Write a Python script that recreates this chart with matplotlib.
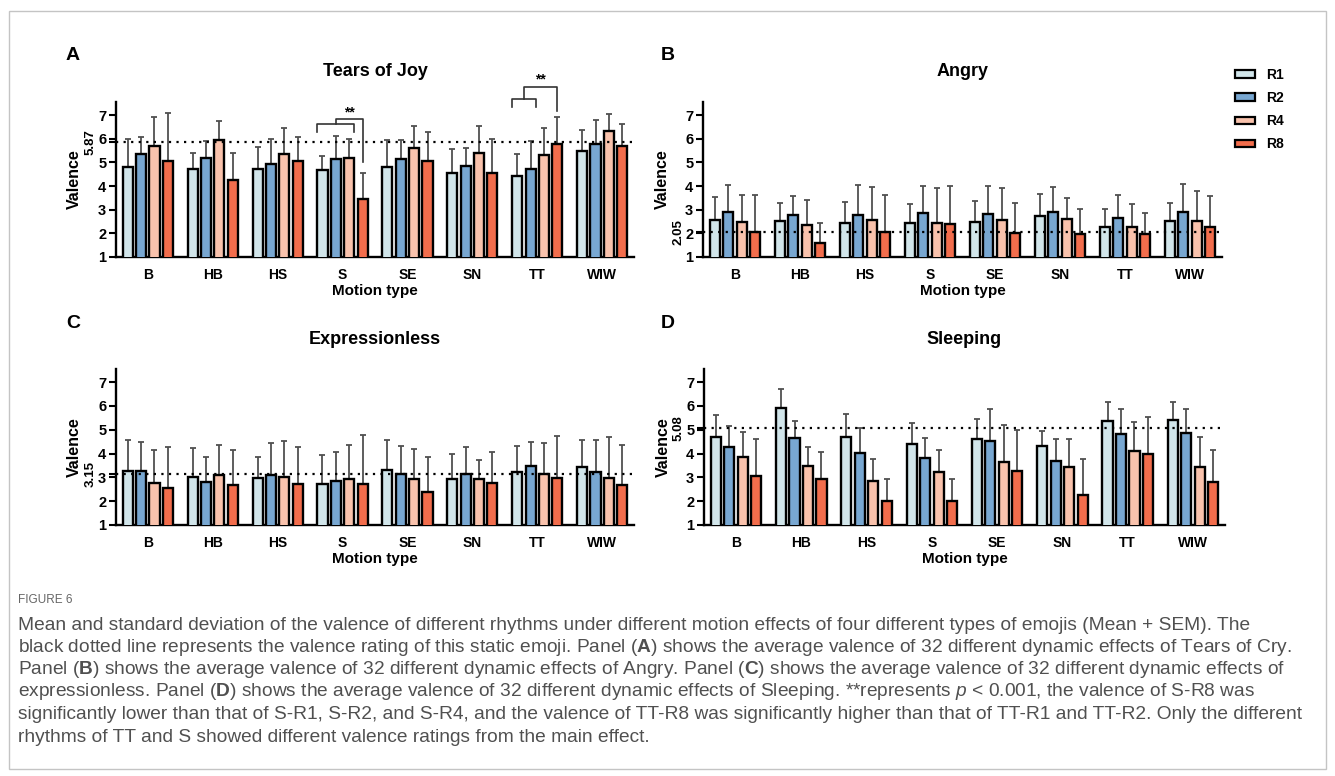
import matplotlib
matplotlib.use('Agg')
import matplotlib.pyplot as plt
import numpy as np
from matplotlib.patches import Patch, Rectangle

plt.rcParams['font.family'] = ['Liberation Sans', 'DejaVu Sans']

# ---------------- data ----------------
categories = ['B', 'HB', 'HS', 'S', 'SE', 'SN', 'TT', 'WIW']
rhythms = ['R1', 'R2', 'R4', 'R8']
colors = ['#D1E5EA', '#78A7D1', '#F9C2AC', '#F26D4C']

# Tears of Joy (rows: R1, R2, R4, R8)
joy_mean = [[4.79, 4.71, 4.71, 4.67, 4.82, 4.57, 4.41, 5.47],
            [5.37, 5.19, 4.93, 5.14, 5.14, 4.86, 4.72, 5.76],
            [5.68, 5.94, 5.37, 5.19, 5.62, 5.41, 5.33, 6.34],
            [5.07, 4.27, 5.07, 3.47, 5.07, 4.57, 5.76, 5.68]]
joy_upper = [[5.97, 5.38, 5.66, 5.27, 5.96, 5.55, 5.34, 6.35],
             [6.08, 5.90, 5.97, 6.10, 5.96, 5.62, 5.89, 6.80],
             [6.93, 6.73, 6.45, 5.97, 6.53, 6.55, 6.45, 7.04],
             [7.10, 5.38, 6.07, 4.55, 6.27, 5.97, 6.93, 6.60]]
joy_static = 5.87

# Angry
angry_mean = [[2.57, 2.52, 2.43, 2.43, 2.46, 2.73, 2.28, 2.52],
              [2.92, 2.78, 2.78, 2.87, 2.83, 2.91, 2.66, 2.91],
              [2.46, 2.36, 2.57, 2.43, 2.57, 2.62, 2.28, 2.52],
              [2.05, 1.58, 2.05, 2.38, 2.01, 1.96, 1.96, 2.28]]
angry_upper = [[3.54, 3.30, 3.33, 3.22, 3.37, 3.65, 3.02, 3.30],
               [4.05, 3.56, 4.03, 4.02, 3.98, 3.95, 3.61, 4.09],
               [3.63, 3.39, 3.95, 3.91, 3.91, 3.50, 3.22, 3.78],
               [3.63, 2.42, 3.63, 4.02, 3.30, 3.01, 2.85, 3.56]]
angry_static = 2.05

# Expressionless
expr_mean = [[3.27, 3.00, 2.96, 2.74, 3.33, 2.92, 3.22, 3.43],
             [3.27, 2.81, 3.12, 2.86, 3.16, 3.16, 3.48, 3.22],
             [2.77, 3.12, 3.00, 2.92, 2.92, 2.92, 3.16, 2.97],
             [2.56, 2.67, 2.74, 2.74, 2.37, 2.78, 2.96, 2.70]]
expr_upper = [[4.56, 4.25, 3.86, 3.96, 4.57, 4.00, 4.32, 4.55],
              [4.50, 3.87, 4.46, 4.06, 4.31, 4.27, 4.50, 4.55],
              [4.15, 4.34, 4.53, 4.36, 4.18, 3.71, 4.43, 4.70],
              [4.29, 4.14, 4.29, 4.76, 3.87, 4.08, 4.74, 4.35]]
expr_static = 3.15

# Sleeping
sleep_mean = [[4.71, 5.90, 4.71, 4.41, 4.63, 4.32, 5.36, 5.42],
              [4.26, 4.65, 4.02, 3.81, 4.53, 3.68, 4.83, 4.86],
              [3.85, 3.46, 2.86, 3.21, 3.64, 3.43, 4.11, 3.43],
              [3.06, 2.92, 2.01, 2.01, 3.27, 2.28, 3.97, 2.81]]
sleep_upper = [[5.60, 6.71, 5.67, 5.28, 5.47, 4.94, 6.16, 6.15],
               [5.15, 5.35, 5.08, 4.66, 5.88, 4.63, 5.89, 5.88],
               [4.92, 4.26, 3.76, 4.16, 5.19, 4.60, 5.33, 4.69],
               [4.61, 4.05, 2.94, 2.94, 4.97, 3.76, 5.53, 4.17]]
sleep_static = 5.08

titles = ['Tears of Joy', 'Angry', 'Expressionless', 'Sleeping']
panel_letters = ['A', 'B', 'C', 'D']
static_labels = ['5.87', '2.05', '3.15', '5.08']

caption_title = 'FIGURE 6'
caption_lines = [
    'Mean and standard deviation of the valence of different rhythms under different motion effects of four different types of emojis (Mean + SEM). The',
    r'black dotted line represents the valence rating of this static emoji. Panel ($\mathbf{A}$) shows the average valence of 32 different dynamic effects of Tears of Cry.',
    r'Panel ($\mathbf{B}$) shows the average valence of 32 different dynamic effects of Angry. Panel ($\mathbf{C}$) shows the average valence of 32 different dynamic effects of',
    r'expressionless. Panel ($\mathbf{D}$) shows the average valence of 32 different dynamic effects of Sleeping. **represents $p$ < 0.001, the valence of S-R8 was',
    'significantly lower than that of S-R1, S-R2, and S-R4, and the valence of TT-R8 was significantly higher than that of TT-R1 and TT-R2. Only the different',
    'rhythms of TT and S showed different valence ratings from the main effect.',
]

# ---------------- figure ----------------
W, H = 1335, 776
fig = plt.figure(figsize=(W / 100, H / 100), dpi=100)
fig.patch.set_facecolor('white')

plt.rcParams['mathtext.fontset'] = 'custom'
plt.rcParams['mathtext.rm'] = 'Liberation Sans'
plt.rcParams['mathtext.bf'] = 'Liberation Sans:bold'
plt.rcParams['mathtext.it'] = 'Liberation Sans:italic'


def px_axes(left, right, top, bottom):
    return fig.add_axes([left / W, 1 - bottom / H, (right - left) / W, (bottom - top) / H])


# (left, right, top, bottom) in pixels
boxes = [(116, 634, 102, 257), (703, 1222, 102, 257),
         (116, 634, 369, 525), (704, 1225, 369, 525)]
letter_pos = [(73, 56), (668, 56), (73, 323), (668, 323)]
ylabel_off = [34, 33, 34, 33]
static_off = [25, 25, 25, 25]

means = [joy_mean, angry_mean, expr_mean, sleep_mean]
uppers = [joy_upper, angry_upper, expr_upper, sleep_upper]
statics = [joy_static, angry_static, expr_static, sleep_static]

x = np.arange(len(categories))
pitch = 0.206
bw = 0.155
offsets = (np.arange(4) - 1.5) * pitch

axes = []
for k in range(4):
    l, r, t, b = boxes[k]
    ax = px_axes(l, r, t, b)
    axes.append(ax)
    m = np.array(means[k])
    u = np.array(uppers[k])
    for i in range(4):
        ax.errorbar(x + offsets[i], m[i], yerr=[np.zeros(len(x)), u[i] - m[i]],
                    fmt='none', ecolor='#505050', elinewidth=1.3, capsize=2.2,
                    capthick=1.3, zorder=2)
        ax.bar(x + offsets[i], m[i], bw, color=colors[i], edgecolor='black',
               linewidth=1.7, zorder=3, label=rhythms[i])
    ax.axhline(statics[k], color='black', linestyle=(0, (1, 2.4)), linewidth=1.6, zorder=4)
    ax.set_xlim(-0.49, 7.49)
    ax.set_ylim(1, 7.55)
    ax.set_yticks(range(1, 8))
    ax.set_yticks([statics[k]], minor=True)
    ax.set_xticks(x)
    ax.set_xticklabels(categories, fontsize=10, fontweight='bold')
    for lab in ax.get_yticklabels():
        lab.set_fontweight('bold')
    ax.tick_params(axis='y', which='both', direction='out', length=5, width=1.5,
                   labelsize=10.5, pad=2)
    ax.tick_params(axis='x', length=0, pad=8)
    for s in ['top', 'right']:
        ax.spines[s].set_visible(False)
    for s in ['left', 'bottom']:
        ax.spines[s].set_linewidth(1.7)
    ax.set_ylabel('Valence', fontsize=11.5, fontweight='bold')
    ax.yaxis.set_label_coords(-ylabel_off[k] / (r - l), 0.5)
    ax.set_xlabel('Motion type', fontsize=11, fontweight='bold')
    ax.xaxis.set_label_coords(0.5, -27 / (b - t))
    ax.annotate(static_labels[k], xy=(0, statics[k]), xycoords=('axes fraction', 'data'),
                xytext=(-static_off[k], 0), textcoords='offset pixels', rotation=90,
                ha='center', va='center', fontsize=9.5, fontweight='bold')
    ax.set_title(titles[k], fontsize=13, fontweight='bold', y=1 + 30 / (b - t),
                 va='center', pad=0)
    fig.text(letter_pos[k][0] / W, 1 - letter_pos[k][1] / H, panel_letters[k],
             fontsize=14, fontweight='bold', ha='center', va='center')

# significance brackets on panel A
axA = axes[0]
lc = '#333333'


def bracket(ax, g, first, last, right_bar, y_sub, y_leg, y_top, y_right, y_star):
    x0 = g + offsets[first] - bw / 2
    x1 = g + offsets[last] + bw / 2
    xm = (x0 + x1) / 2
    xr = g + offsets[right_bar]
    kw = dict(color=lc, lw=1.2, clip_on=False, zorder=5)
    ax.plot([x0, x0, x1, x1], [y_leg, y_sub, y_sub, y_leg], **kw)
    ax.plot([xm, xm, xr, xr], [y_sub, y_top, y_top, y_right], **kw)
    ax.text((xm + xr) / 2, y_star, '**', ha='center', va='center', fontsize=10,
            fontweight='bold', clip_on=False)


bracket(axA, 3, 0, 2, 3, 6.62, 6.29, 6.82, 5.03, 7.12)
bracket(axA, 6, 0, 1, 3, 7.66, 7.35, 8.19, 7.18, 8.52)

# legend
handles = [Patch(facecolor=colors[i], edgecolor='black', linewidth=1.6) for i in range(4)]
axes[1].legend(handles, rhythms, loc='upper left',
               bbox_to_anchor=(1228 / W, 1 - 61 / H), bbox_transform=fig.transFigure,
               frameon=False, borderpad=0, handlelength=1.45, handleheight=0.45,
               labelspacing=0.66, handletextpad=0.8, prop={'weight': 'bold', 'size': 10})

# frame
fig.patches.append(Rectangle((9 / W, 1 - 769 / H), (1326 - 9) / W, (769 - 11) / H,
                             transform=fig.transFigure, fill=False,
                             edgecolor='#c4c4c4', linewidth=1.0))

# caption
cap_color = '#505050'
fig.text(18 / W, 1 - 600 / H, caption_title, fontsize=8.5, color='#666666',
         ha='left', va='center')
line_y = [625, 647.5, 670, 692, 714.5, 737]
cap_texts = []
for ly, s in zip(line_y, caption_lines):
    cap_texts.append(fig.text(18 / W, 1 - ly / H, s, fontsize=12, color=cap_color,
                              ha='left', va='center'))
renderer = fig.canvas.get_renderer()
w0 = cap_texts[0].get_window_extent(renderer).width
scale = (1255 - 18) / w0
for t in cap_texts:
    t.set_fontsize(12 * scale)

fig.savefig('out.png', dpi=100, facecolor='white')
